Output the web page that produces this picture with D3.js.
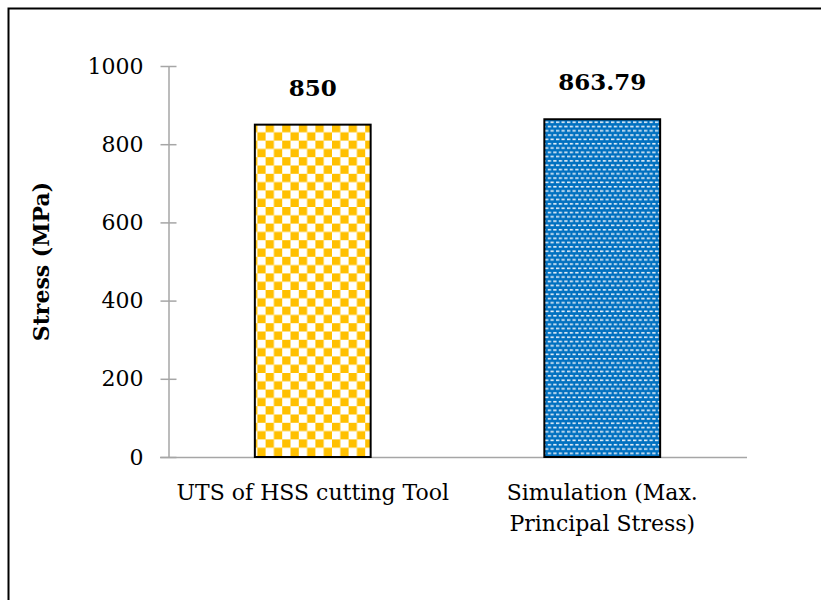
<!DOCTYPE html>
<html>
<head>
<meta charset="utf-8">
<script src="https://cdn.jsdelivr.net/npm/d3@7"></script>
<style>
  html, body { margin: 0; padding: 0; background: #fff; }
  svg { display: block; }
</style>
</head>
<body>
<svg id="chart" width="821" height="600"></svg>
<script>
const categories = [["UTS of HSS cutting Tool"], ["Simulation (Max.", "Principal Stress)"]];
const categoryKeys = ["UTS of HSS cutting Tool", "Simulation (Max. Principal Stress)"];
const values = [850, 863.79];
const valueLabels = ["850", "863.79"];
const yTicks = [0, 200, 400, 600, 800, 1000];
const yTitle = "Stress (MPa)";
const fills = ["url(#checker)", "url(#dashes)"];

const svg = d3.select("#chart");
const font = "'DejaVu Serif', serif";

// outer frame
svg.append("rect").attr("x", 8.5).attr("y", 8.5).attr("width", 900).attr("height", 700)
  .attr("fill", "none").attr("stroke", "#000").attr("stroke-width", 2);

const defs = svg.append("defs");
const pc = defs.append("pattern").attr("id", "checker").attr("patternUnits", "userSpaceOnUse")
  .attr("width", 16.6).attr("height", 16.6).attr("x", 249).attr("y", 124);
pc.append("rect").attr("width", 16.6).attr("height", 16.6).attr("fill", "#fff");
pc.append("rect").attr("x", 0).attr("y", 0).attr("width", 8.3).attr("height", 8.3).attr("fill", "#FFC000");
pc.append("rect").attr("x", 8.3).attr("y", 8.3).attr("width", 8.3).attr("height", 8.3).attr("fill", "#FFC000");

const pd = defs.append("pattern").attr("id", "dashes").attr("patternUnits", "userSpaceOnUse")
  .attr("width", 5.5).attr("height", 8.6).attr("x", 545).attr("y", 120);
pd.append("rect").attr("width", 5.5).attr("height", 8.6).attr("fill", "#0070C0");
pd.append("rect").attr("x", 0).attr("y", 1.4).attr("width", 3.3).attr("height", 1.6).attr("fill", "#e8f0f8");
pd.append("rect").attr("x", 2.75).attr("y", 5.7).attr("width", 3.3).attr("height", 1.6).attr("fill", "#e8f0f8");
pd.append("rect").attr("x", -2.75).attr("y", 5.7).attr("width", 3.3).attr("height", 1.6).attr("fill", "#e8f0f8");

const x = d3.scaleBand().domain(categoryKeys).range([168, 747]).paddingInner(0.6).paddingOuter(0.3);
const y = d3.scaleLinear().domain([0, 1000]).range([457, 66]);

// y axis
const yAxis = d3.axisLeft(y).tickValues(yTicks).tickFormat(d3.format("d")).tickSize(0).tickPadding(25);
const yg = svg.append("g").attr("transform", "translate(168.5,0)").call(yAxis);
yg.select(".domain").attr("stroke", "#a6a6a6").attr("stroke-width", 1.5);
yg.selectAll(".tick text").attr("font-family", font).attr("font-size", 22).attr("fill", "#000");
yg.selectAll(".tick").append("line").attr("x1", -8).attr("x2", 8).attr("stroke", "#a6a6a6").attr("stroke-width", 1.5);

// x axis line
svg.append("line").attr("x1", 160).attr("x2", 747).attr("y1", y(0) + 0.5).attr("y2", y(0) + 0.5)
  .attr("stroke", "#a6a6a6").attr("stroke-width", 1.5);

// bars
svg.selectAll("rect.bar").data(values).enter().append("rect").attr("class", "bar")
  .attr("x", (d, i) => x(categoryKeys[i]))
  .attr("y", d => y(d))
  .attr("width", x.bandwidth())
  .attr("height", d => y(0) - y(d))
  .attr("fill", (d, i) => fills[i])
  .attr("stroke", "#000").attr("stroke-width", 2);

// value labels
svg.selectAll("text.val").data(values).enter().append("text").attr("class", "val")
  .attr("x", (d, i) => x(categoryKeys[i]) + x.bandwidth() / 2)
  .attr("y", d => y(d) - 29)
  .attr("text-anchor", "middle").attr("font-family", font).attr("font-weight", "bold")
  .attr("font-size", 23).attr("fill", "#000")
  .text((d, i) => valueLabels[i]);

// category labels
categories.forEach((lines, i) => {
  const t = svg.append("text").attr("text-anchor", "middle").attr("font-family", font)
    .attr("font-size", 22).attr("fill", "#000");
  lines.forEach((ln, j) => {
    t.append("tspan").attr("x", x(categoryKeys[i]) + x.bandwidth() / 2).attr("y", 500 + j * 31).text(ln);
  });
});

// y title
svg.append("text").attr("transform", `translate(49,${(y(0) + y(1000)) / 2}) rotate(-90)`)
  .attr("text-anchor", "middle").attr("font-family", font).attr("font-weight", "bold")
  .attr("font-size", 22).attr("fill", "#000").text(yTitle);
</script>
</body>
</html>
